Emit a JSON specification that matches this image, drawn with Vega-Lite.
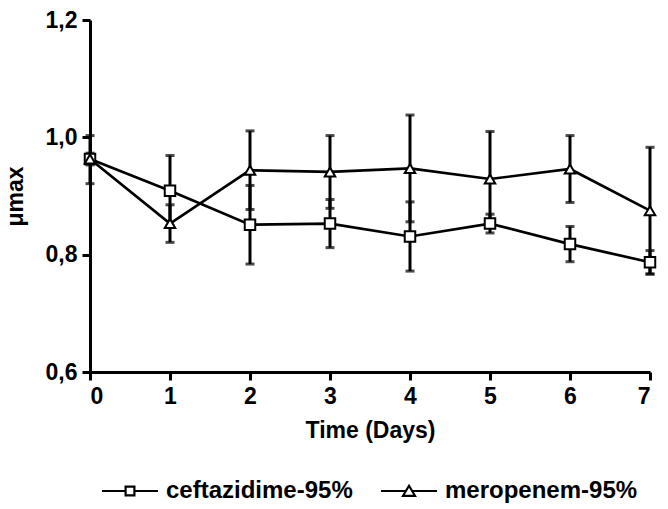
{
  "$schema": "https://vega.github.io/schema/vega-lite/v6.json",
  "autosize": "none",
  "width": 560,
  "height": 352,
  "padding": {"left": 90, "top": 20, "right": 18, "bottom": 137},
  "background": "white",
  "config": {
    "view": {"stroke": null},
    "font": "Liberation Sans",
    "axis": {
      "domainColor": "black", "domainWidth": 3, "tickColor": "black", "tickWidth": 3, "tickSize": 8,
      "labelFont": "Liberation Sans", "labelFontWeight": "bold", "labelFontSize": 23, "labelColor": "black",
      "titleFont": "Liberation Sans", "titleFontWeight": "bold", "titleFontSize": 23, "titleColor": "black",
      "grid": false, "labelPadding": 5
    }
  },
  "data": {
    "values": [
      {"day": 0, "series": "ceftazidime-95%", "mean": 0.963, "lo": 0.953, "hi": 0.973},
      {"day": 1, "series": "ceftazidime-95%", "mean": 0.909, "lo": 0.849, "hi": 0.969},
      {"day": 2, "series": "ceftazidime-95%", "mean": 0.851, "lo": 0.784, "hi": 0.918},
      {"day": 3, "series": "ceftazidime-95%", "mean": 0.853, "lo": 0.812, "hi": 0.894},
      {"day": 4, "series": "ceftazidime-95%", "mean": 0.831, "lo": 0.772, "hi": 0.890},
      {"day": 5, "series": "ceftazidime-95%", "mean": 0.853, "lo": 0.837, "hi": 0.869},
      {"day": 6, "series": "ceftazidime-95%", "mean": 0.818, "lo": 0.788, "hi": 0.848},
      {"day": 7, "series": "ceftazidime-95%", "mean": 0.787, "lo": 0.767, "hi": 0.807},
      {"day": 0, "series": "meropenem-95%", "mean": 0.963, "lo": 0.921, "hi": 1.003},
      {"day": 1, "series": "meropenem-95%", "mean": 0.853, "lo": 0.821, "hi": 0.885},
      {"day": 2, "series": "meropenem-95%", "mean": 0.944, "lo": 0.877, "hi": 1.011},
      {"day": 3, "series": "meropenem-95%", "mean": 0.941, "lo": 0.879, "hi": 1.003},
      {"day": 4, "series": "meropenem-95%", "mean": 0.947, "lo": 0.856, "hi": 1.038},
      {"day": 5, "series": "meropenem-95%", "mean": 0.929, "lo": 0.848, "hi": 1.010},
      {"day": 6, "series": "meropenem-95%", "mean": 0.946, "lo": 0.889, "hi": 1.003},
      {"day": 7, "series": "meropenem-95%", "mean": 0.875, "lo": 0.767, "hi": 0.983}
    ]
  },
  "encoding": {
    "x": {
      "field": "day", "type": "quantitative", "title": "Time (Days)",
      "scale": {"domain": [0, 7], "nice": false, "zero": false},
      "axis": {"values": [0, 1, 2, 3, 4, 5, 6, 7], "format": "d", "titlePadding": 11}
    }
  },
  "resolve": {"scale": {"shape": "independent"}, "legend": {"shape": "independent"}},
  "layer": [
    {
      "mark": {"type": "rule", "color": "black", "strokeWidth": 3},
      "encoding": {
        "y": {"field": "lo", "type": "quantitative", "title": "μmax",
          "scale": {"domain": [0.6, 1.2], "nice": false, "zero": false},
          "axis": {"values": [0.6, 0.8, 1.0, 1.2], "labelExpr": "replace(format(datum.value, '.1f'), '.', ',')", "titlePadding": 18}},
        "y2": {"field": "hi"}
      }
    },
    {
      "mark": {"type": "tick", "color": "black", "orient": "horizontal", "size": 9, "thickness": 3},
      "encoding": {"y": {"field": "lo", "type": "quantitative"}}
    },
    {
      "mark": {"type": "tick", "color": "black", "orient": "horizontal", "size": 9, "thickness": 3},
      "encoding": {"y": {"field": "hi", "type": "quantitative"}}
    },
    {
      "mark": {"type": "line", "color": "black", "strokeWidth": 2.7},
      "encoding": {
        "y": {"field": "mean", "type": "quantitative"},
        "detail": {"field": "series"}
      }
    },
    {
      "mark": {"type": "point", "filled": true, "fill": "white", "stroke": "black", "strokeWidth": 2, "opacity": 1, "size": 110},
      "encoding": {
        "y": {"field": "mean", "type": "quantitative"},
        "shape": {
          "field": "series", "type": "nominal",
          "scale": {"domain": ["ceftazidime-95%", "meropenem-95%"], "range": ["square", "triangle-up"]},
          "legend": null
        }
      }
    },
    {
      "transform": [{"filter": "datum.day < 0"}],
      "mark": {"type": "point", "filled": false, "color": "black", "strokeWidth": 2.2, "opacity": 1, "size": 256},
      "encoding": {
        "y": {"field": "mean", "type": "quantitative"},
        "shape": {
          "field": "series", "type": "nominal",
          "scale": {"domain": ["ceftazidime-95%", "meropenem-95%"],
            "range": ["M-3.5,0L-0.55,0M0.55,0L3.5,0M-0.55,-0.55L0.55,-0.55L0.55,0.55L-0.55,0.55Z", "M-3.5,0L-0.42,0M0.42,0L3.5,0M0,-0.65L0.75,0.6L-0.75,0.6Z"]},
          "legend": {
            "title": null, "orient": "none", "direction": "horizontal",
            "legendX": 28, "legendY": 459, "padding": 0,
            "symbolSize": 256, "symbolStrokeColor": "black", "symbolStrokeWidth": 2.2, "symbolOpacity": 1,
            "labelFont": "Liberation Sans", "labelFontWeight": "bold", "labelFontSize": 24, "labelColor": "black", "labelLimit": 400,
            "labelOffset": 24, "columnPadding": 23
          }
        }
      }
    }
  ]
}
